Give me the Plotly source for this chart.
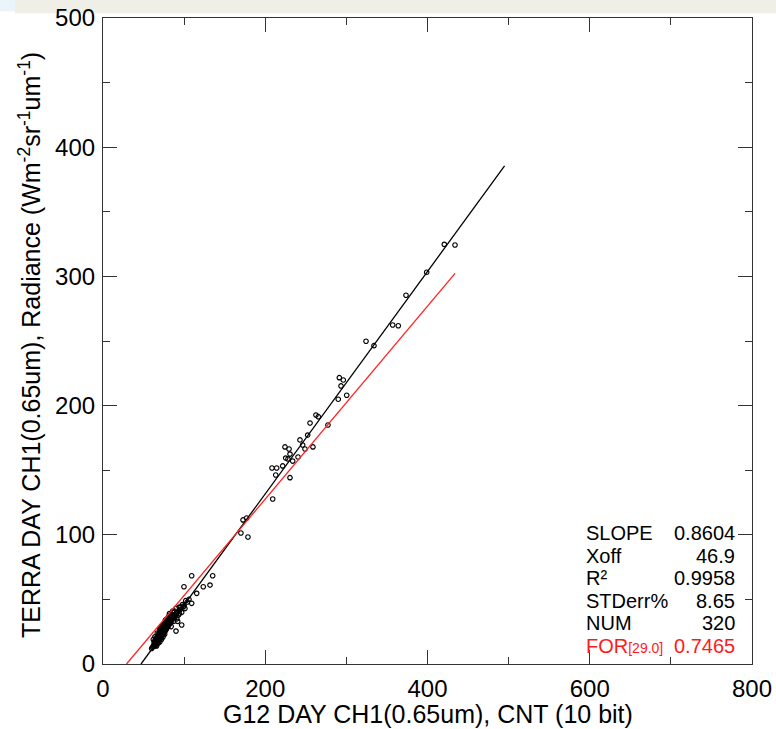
import plotly.graph_objects as go

# Regression statistics
SLOPE = 0.8604
XOFF = 46.9
R2 = 0.9958
STDERR = 8.65
NUM = 320
FOR_XOFF = 29.0
FOR_SLOPE = 0.7465

# Extent of each drawn fit line along x
FIT_X_END = 495.0
FOR_X_END = 434.0

# Scattered collocations (G12 counts, TERRA radiance)
sparse_x = [420.7, 433.9, 399.0, 373.5, 357.1, 364.0, 324.2, 334.0, 291.3, 296.2,
            293.4, 290.0, 300.4, 265.4, 262.5, 255.2, 252.3, 242.8, 246.1, 249.0,
            258.8, 277.3, 224.3, 229.3, 230.5, 225.2, 228.0, 233.8, 240.4, 221.5,
            214.1, 208.3, 212.9, 230.5, 209.2, 177.1, 172.6, 170.0, 178.7,
            109.3, 135.2, 99.8, 123.6, 131.9, 115.5, 109.3, 99.0, 97.0, 90.0]
sparse_y = [324.8, 324.3, 303.2, 285.4, 262.4, 261.8, 249.8, 246.4, 221.6, 219.8,
            215.2, 204.9, 208.0, 191.4, 192.7, 186.5, 177.2, 173.4, 169.5, 166.4,
            168.0, 185.0, 168.0, 166.4, 162.5, 159.4, 158.7, 157.1, 160.2, 153.3,
            151.7, 151.7, 146.3, 144.2, 127.7, 113.0, 111.5, 101.4, 98.3,
            68.3, 68.3, 59.8, 59.8, 61.1, 54.7, 47.0, 44.4, 30.2, 25.5]

# Dense cluster of low-radiance collocations
dense_x = [60, 61, 62, 63, 63, 64, 64, 64, 65, 65, 65, 66, 66, 66, 66, 67, 67, 67,
           68, 68, 68, 68, 69, 69, 69, 70, 70, 70, 70, 71, 71, 71, 72, 72, 72, 72,
           73, 73, 73, 74, 74, 74, 74, 75, 75, 75, 76, 76, 76, 76, 77, 77, 77, 78,
           78, 78, 79, 79, 80, 80, 80, 81, 81, 82, 82, 83, 83, 84, 85, 85, 86, 87,
           87, 88, 89, 90, 91, 92, 93, 95, 97, 100, 104, 106, 69, 71, 73, 75, 77,
           79, 81, 83, 86, 88, 84, 92, 94, 102, 62, 64, 67, 70, 72, 78, 82, 86,
           90, 94, 96, 98, 101]
dense_y = [12, 13, 14, 15, 17, 14, 16, 18, 15, 17, 19, 14, 16, 18, 20, 17, 19, 21,
           16, 18, 20, 22, 19, 21, 23, 17, 19, 21, 24, 20, 22, 25, 19, 21, 23, 26,
           22, 25, 27, 21, 23, 26, 29, 24, 27, 30, 23, 25, 28, 31, 26, 29, 32, 27,
           30, 33, 28, 31, 29, 32, 35, 30, 33, 31, 34, 32, 36, 33, 34, 37, 35, 33,
           38, 36, 37, 39, 35, 40, 38, 42, 40, 45, 48, 50, 24, 27, 29, 31, 34,
           35, 37, 38, 40, 41, 29, 33, 44, 49, 19, 21, 24, 27, 29, 34, 39, 41,
           43, 39, 44, 46, 43]

stats_labels = ["SLOPE", "Xoff", "R²", "STDerr%", "NUM"]
stats_values = [f"{SLOPE:.4f}", f"{XOFF:.1f}", f"{R2:.4f}", f"{STDERR:.2f}", f"{NUM}"]

FONT = "Liberation Sans, Arial, Helvetica, sans-serif"

fig = go.Figure()

fig.add_trace(go.Scatter(
    x=sparse_x + dense_x, y=sparse_y + dense_y, mode="markers",
    marker=dict(symbol="circle-open", size=4.5, color="black",
                line=dict(width=1.2, color="black")),
    showlegend=False, hoverinfo="skip"))

# Fitted line (black) and forced-offset line (red)
fig.add_trace(go.Scatter(
    x=[XOFF, FIT_X_END], y=[0, SLOPE * (FIT_X_END - XOFF)], mode="lines",
    line=dict(color="black", width=1.3), showlegend=False, hoverinfo="skip"))
fig.add_trace(go.Scatter(
    x=[FOR_XOFF, FOR_X_END], y=[0, FOR_SLOPE * (FOR_X_END - FOR_XOFF)], mode="lines",
    line=dict(color="#ff2020", width=1.3), showlegend=False, hoverinfo="skip"))

# Statistics table in the lower right corner
row_y = [101.6, 83.6, 66.3, 49.0, 31.7, 14.2]
annotations = []
for lab, val, yy in zip(stats_labels, stats_values, row_y):
    annotations.append(dict(x=592.5, y=yy, text=lab, showarrow=False, xanchor="left",
                            yanchor="middle", font=dict(family=FONT, size=20, color="black")))
    annotations.append(dict(x=781.5, y=yy, text=val, showarrow=False, xanchor="right",
                            yanchor="middle", font=dict(family=FONT, size=20, color="black")))
annotations.append(dict(x=592.5, y=row_y[5],
                        text=f"FOR<span style='font-size:14px'>[{FOR_XOFF:.1f}]</span>",
                        showarrow=False, xanchor="left", yanchor="middle",
                        font=dict(family=FONT, size=20, color="#ff1a1a")))
annotations.append(dict(x=781.5, y=row_y[5], text=f"{FOR_SLOPE:.4f}", showarrow=False,
                        xanchor="right", yanchor="middle",
                        font=dict(family=FONT, size=20, color="#ff1a1a")))

# Axis titles
annotations.append(dict(xref="paper", yref="paper", x=0.5, y=-0.0774,
                        text="G12 DAY CH1(0.65um), CNT (10 bit)", showarrow=False,
                        xanchor="center", yanchor="middle",
                        font=dict(family=FONT, size=25, color="black")))
annotations.append(dict(xref="paper", yref="paper", x=-0.1125, y=0.4938, textangle=-90,
                        text="TERRA DAY CH1(0.65um), Radiance (Wm<sup>-2</sup>sr<sup>-1</sup>um<sup>-1</sup>)",
                        showarrow=False, xanchor="center", yanchor="middle",
                        font=dict(family=FONT, size=25, color="black")))

axis_common = dict(showgrid=False, zeroline=False, showline=True, linecolor="#333333",
                   linewidth=1.2, mirror="allticks", ticks="inside", ticklen=14,
                   tickwidth=1, tickcolor="#333333", automargin=False,
                   tickfont=dict(family=FONT, size=24, color="black"))

fig.update_layout(
    width=776, height=729,
    margin=dict(l=103, r=24, t=18, b=65),
    paper_bgcolor="white", plot_bgcolor="white",
    xaxis=dict(range=[0, 800], tickvals=[0, 200, 400, 600, 800], ticklabelstandoff=3,
               minor=dict(dtick=100, ticks="inside", ticklen=7, tickcolor="#333333"),
               **axis_common),
    yaxis=dict(range=[0, 500], tickvals=[0, 100, 200, 300, 400, 500], ticklabelstandoff=2,
               minor=dict(dtick=50, ticks="inside", ticklen=7, tickcolor="#333333"),
               **axis_common),
    annotations=annotations,
    shapes=[
        dict(type="rect", xref="paper", yref="paper", x0=-0.1356, x1=1.04,
             y0=1.0073, y1=1.03, fillcolor="#efefe8", line=dict(width=0), layer="below"),
        dict(type="rect", xref="paper", yref="paper", x0=-0.16, x1=-0.1356,
             y0=1.0103, y1=1.03, fillcolor="#eaf5fb", line=dict(width=0), layer="below"),
    ],
)

fig.write_html("out.html")
